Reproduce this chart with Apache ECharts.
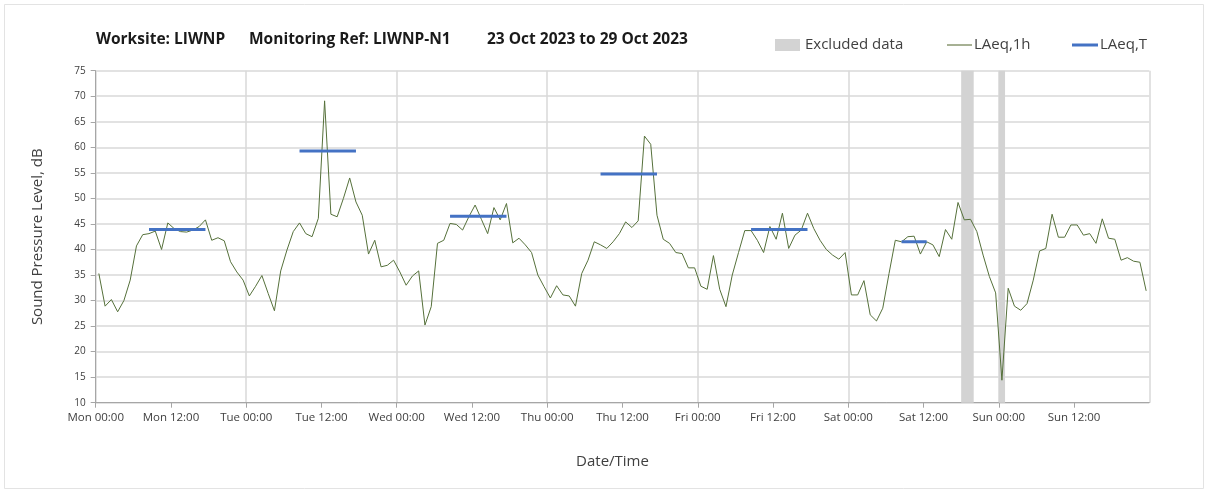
<!DOCTYPE html>
<html>
<head>
<meta charset="utf-8">
<script src="https://cdn.jsdelivr.net/npm/echarts@6/dist/echarts.min.js"></script>
<style>
  html, body { margin: 0; padding: 0; background: #fff; }
  #chart { width: 1208px; height: 493px; }
</style>
</head>
<body>
<div id="chart"></div>
<script>
  // hourly LAeq,1h from Mon 00:00 to Sun 23:00 (168 values)
  var hourlyLevels = [
    35.3, 28.9, 30.2, 27.8, 30.0, 34.0, 40.7, 42.9, 43.1, 43.6, 40.0, 45.2,
    44.1, 43.5, 43.4, 43.8, 44.5, 45.8, 41.8, 42.3, 41.7, 37.6, 35.6, 34.0,
    30.9, 32.8, 34.9, 31.4, 28.0, 35.8, 39.9, 43.5, 45.2, 43.1, 42.5, 46.1,
    69.1, 46.9, 46.4, 50.0, 54.0, 49.3, 46.7, 39.1, 41.8, 36.6, 36.9, 37.9,
    35.6, 33.0, 34.8, 35.8, 25.2, 28.8, 41.2, 41.8, 45.1, 44.9, 43.8, 46.4,
    48.7, 45.9, 43.1, 48.2, 45.8, 49.0, 41.3, 42.2, 40.9, 39.4, 35.0, 32.7,
    30.5, 32.9, 31.1, 30.9, 28.9, 35.3, 37.9, 41.5, 40.9, 40.2, 41.5, 43.1,
    45.4, 44.3, 45.6, 62.2, 60.6, 46.7, 42.0, 41.2, 39.4, 39.2, 36.4, 36.4,
    32.8, 32.2, 38.8, 32.2, 28.8, 35.0, 39.4, 43.7, 43.7, 41.8, 39.4, 44.5,
    42.0, 47.1, 40.2, 42.8, 43.8, 47.1, 44.1, 41.8, 40.0, 38.9, 38.1, 39.4,
    31.1, 31.1, 33.9, 27.2, 26.0, 28.5, 35.3, 41.8, 41.5, 42.5, 42.6, 39.1,
    41.5, 40.9, 38.6, 43.9, 42.0, 49.2, 45.8, 45.9, 43.5, 38.9, 34.7, 31.5,
    14.4, 32.4, 28.9, 28.1, 29.4, 34.0, 39.7, 40.2, 46.9, 42.4, 42.4, 44.8,
    44.8, 42.8, 43.1, 41.2, 46.0, 42.2, 42.0, 37.9, 38.4, 37.7, 37.5, 31.9
  ]

  // LAeq,T periods: [first hour index, last hour index, level]
  var periodStart = [8, 32, 56, 80, 104, 128]
  var periodEnd = [17, 41, 65, 89, 113, 132]
  var periodLevel = [43.9, 59.3, 46.5, 54.8, 43.9, 41.5]

  // excluded data, in hours from Mon 00:00
  var excludedFrom = [138, 144]
  var excludedTo = [140, 145]

  var dayNames = ['Mon', 'Tue', 'Wed', 'Thu', 'Fri', 'Sat', 'Sun']

  var lineData = hourlyLevels.map(function(v, i) {
    return [i + 0.5, v]
  })

  var periodData = []
  for (var i = 0; i < hourlyLevels.length; i++) {
    var val = null
    for (var k = 0; k < periodStart.length; k++) {
      if (i >= periodStart[k] && i <= periodEnd[k]) val = periodLevel[k]
    }
    periodData.push([i + 0.5, val])
  }

  var excludedAreas = excludedFrom.map(function(f, k) {
    return [{ xAxis: f }, { xAxis: excludedTo[k] }]
  })

  var txt = '#404040'
  var titleFont = 'bold 15.5px "Open Sans"'
  var legendFont = '15px "Open Sans"'

  var chart = echarts.init(document.getElementById('chart'))
  chart.setOption({
    animation: false,
    textStyle: { fontFamily: 'Open Sans' },
    graphic: [
      {
        type: 'rect',
        shape: { x: 4.5, y: 4.5, width: 1199, height: 484 },
        style: { fill: 'none', stroke: '#e3e3e3', lineWidth: 1 },
        silent: true
      },
      // title pieces
      { type: 'text', left: 96, top: 32, style: { text: 'Worksite: LIWNP', font: titleFont, fill: '#1a1a1a' } },
      { type: 'text', left: 249, top: 32, style: { text: 'Monitoring Ref: LIWNP-N1', font: titleFont, fill: '#1a1a1a' } },
      { type: 'text', left: 487, top: 32, style: { text: '23 Oct 2023 to 29 Oct 2023', font: titleFont, fill: '#1a1a1a' } },
      // legend
      { type: 'rect', shape: { x: 775, y: 39, width: 25, height: 12 }, style: { fill: '#d3d3d3' } },
      { type: 'text', left: 805, top: 37, style: { text: 'Excluded data', font: legendFont, fill: txt } },
      { type: 'line', shape: { x1: 947, y1: 45, x2: 972, y2: 45 }, style: { stroke: '#4f6228', lineWidth: 1 } },
      { type: 'text', left: 974, top: 37, style: { text: 'LAeq,1h', font: legendFont, fill: txt } },
      { type: 'line', shape: { x1: 1072, y1: 45, x2: 1098, y2: 45 }, style: { stroke: '#4472c4', lineWidth: 3 } },
      { type: 'text', left: 1100, top: 37, style: { text: 'LAeq,T', font: legendFont, fill: txt } }
    ],
    grid: {
      left: 95.7,
      right: 58.7,
      top: 70.7,
      bottom: 90.3
    },
    xAxis: [
      {
        type: 'value',
        min: 0,
        max: 168,
        interval: 12,
        name: 'Date/Time',
        nameLocation: 'middle',
        nameGap: 52,
        nameTextStyle: { fontSize: 15, color: txt, padding: [0, 20, 0, 0] },
        axisLine: { lineStyle: { color: '#a6a6a6' } },
        axisTick: { length: 5, lineStyle: { color: '#a6a6a6' } },
        axisLabel: {
          color: txt,
          fontSize: 11.5,
          margin: 9,
          showMaxLabel: false,
          formatter: function(v) {
            var d = Math.floor(v / 24)
            return dayNames[d] + (v % 24 === 0 ? ' 00:00' : ' 12:00')
          }
        },
        splitLine: { show: false }
      },
      {
        type: 'value',
        min: 0,
        max: 168,
        interval: 24,
        position: 'bottom',
        axisLine: { show: false },
        axisTick: { show: false },
        axisLabel: { show: false },
        splitLine: { show: true, lineStyle: { color: '#d9d9d9', width: 1.5 } }
      }
    ],
    yAxis: {
      type: 'value',
      min: 10,
      max: 75,
      interval: 5,
      name: 'Sound Pressure Level, dB',
      nameLocation: 'middle',
      nameGap: 50,
      nameTextStyle: { fontSize: 15, color: txt },
      axisLine: { show: true, lineStyle: { color: '#a6a6a6' } },
      axisTick: { show: true, inside: false, length: 5, lineStyle: { color: '#a6a6a6' } },
      axisLabel: { color: txt, fontSize: 10, margin: 10 },
      splitLine: { lineStyle: { color: '#d9d9d9', width: 1.5 } }
    },
    series: [
      {
        name: 'Excluded data',
        type: 'line',
        data: [],
        markArea: {
          silent: true,
          itemStyle: { color: '#d3d3d3' },
          data: excludedAreas
        }
      },
      {
        name: 'LAeq,1h',
        type: 'line',
        data: lineData,
        symbol: 'none',
        lineStyle: { color: '#55703a', width: 1 },
        itemStyle: { color: '#55703a' },
        z: 3
      },
      {
        name: 'LAeq,T',
        type: 'line',
        data: periodData,
        symbol: 'none',
        connectNulls: false,
        lineStyle: { color: '#4472c4', width: 3 },
        itemStyle: { color: '#4472c4' },
        z: 4
      }
    ]
  })
</script>
</body>
</html>
